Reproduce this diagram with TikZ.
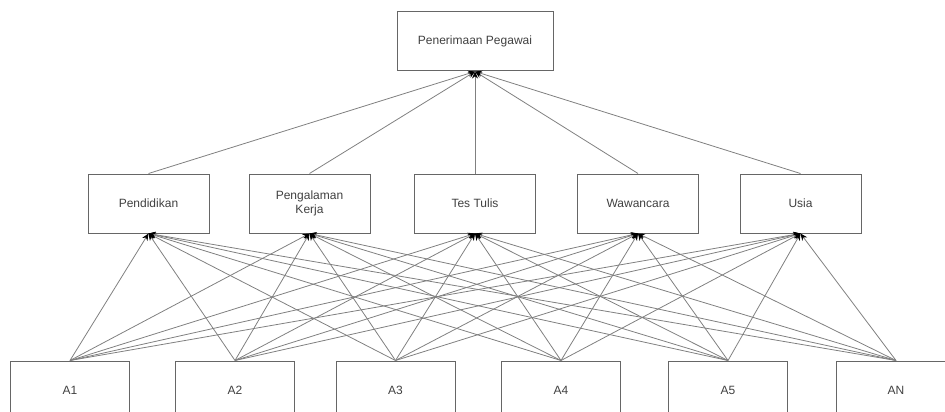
\documentclass[tikz,border=0pt]{standalone}
\usepackage{fontspec}
\setmainfont{Liberation Sans}
\usetikzlibrary{arrows.meta}
\begin{document}
\begin{tikzpicture}[x=1pt,y=-1pt,
  box/.style={draw=black!60, line width=1pt, minimum width=121pt, minimum height=59pt, inner sep=2pt, align=center, font=\fontsize{12}{13.5}\selectfont, text=black!75},
  link/.style={draw=black!50, line width=0.8pt, -{Stealth[length=7pt,width=6pt,black]}}]
\useasboundingbox (0,0) rectangle (945,412);
\clip (0,0) rectangle (945,412);
\node[box, minimum width=156pt] (top) at (475,41.5) {Penerimaan Pegawai};
\node[box] (c1) at (148.5,203.5) {Pendidikan};
\node[box] (c2) at (309.5,203.5) {Pengalaman\\Kerja};
\node[box] (c3) at (475,203.5) {Tes Tulis};
\node[box] (c4) at (638,203.5) {Wawancara};
\node[box] (c5) at (800.5,203.5) {Usia};
\node[box, minimum width=119pt] (a1) at (70,390.5) {A1};
\node[box, minimum width=119pt] (a2) at (235,390.5) {A2};
\node[box, minimum width=119pt] (a3) at (395.5,390.5) {A3};
\node[box, minimum width=119pt] (a4) at (561,390.5) {A4};
\node[box, minimum width=119pt] (a5) at (728,390.5) {A5};
\node[box, minimum width=119pt] (a6) at (896,390.5) {AN};
\foreach \c in {c1,c2,c3,c4,c5}{
  \draw[link] (\c.north) -- (top.south);
}
\foreach \a in {a1,a2,a3,a4,a5,a6}{
  \foreach \c in {c1,c2,c3,c4,c5}{
    \draw[link] (\a.north) -- (\c.south);
  }
}
\end{tikzpicture}
\end{document}
